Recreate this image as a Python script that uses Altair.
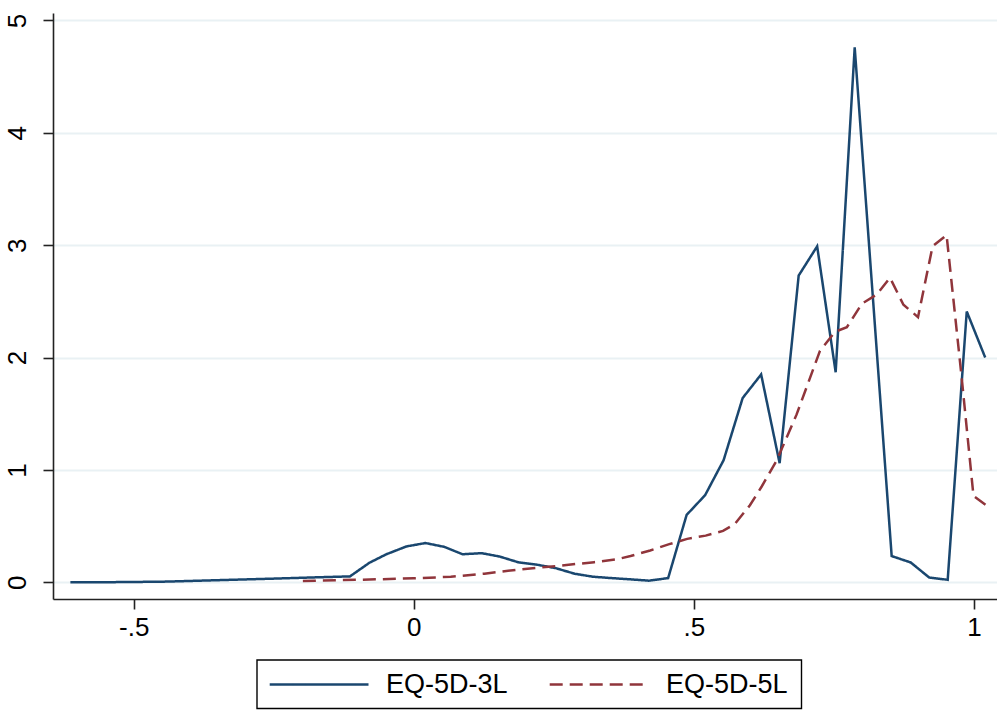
import altair as alt
import pandas as pd

# EQ-5D-3L series (utility value vs density)
x_3l = [-0.613, -0.579, -0.513, -0.448, -0.382, -0.317, -0.251, -0.180, -0.114,
        -0.079, -0.049, -0.013, 0.021, 0.055, 0.087, 0.121, 0.153, 0.187, 0.220,
        0.253, 0.287, 0.320, 0.353, 0.386, 0.420, 0.454, 0.487, 0.520, 0.553,
        0.587, 0.620, 0.653, 0.687, 0.720, 0.753, 0.787, 0.853, 0.887, 0.920,
        0.953, 0.987, 1.020]
y_3l = [0.0, 0.0, 0.003, 0.006, 0.015, 0.024, 0.033, 0.044, 0.053,
        0.175, 0.25, 0.32, 0.35, 0.315, 0.25, 0.26, 0.23, 0.178, 0.157,
        0.127, 0.077, 0.05, 0.038, 0.027, 0.015, 0.038, 0.60, 0.776, 1.087,
        1.64, 1.85, 1.06, 2.73, 2.99, 1.87, 4.76, 0.234, 0.177, 0.043,
        0.023, 2.41, 2.0]

# EQ-5D-5L series
x_5l = [-0.198, -0.13, -0.065, 0.0, 0.066, 0.126, 0.188, 0.254, 0.322, 0.362,
        0.387, 0.422, 0.456, 0.488, 0.521, 0.552, 0.573, 0.60, 0.621, 0.648,
        0.683, 0.725, 0.752, 0.773, 0.80, 0.826, 0.85, 0.874, 0.90, 0.926,
        0.951, 0.978, 0.999, 1.029]
y_5l = [0.012, 0.02, 0.027, 0.036, 0.05, 0.077, 0.115, 0.145, 0.18, 0.205,
        0.234, 0.284, 0.34, 0.387, 0.416, 0.458, 0.52, 0.686, 0.853, 1.087,
        1.49, 2.06, 2.23, 2.27, 2.48, 2.56, 2.71, 2.47, 2.36, 2.99,
        3.09, 1.82, 0.77, 0.66]

series_names = ["EQ-5D-3L", "EQ-5D-5L"]
series_colors = ["#1a476f", "#90353b"]
series_dashes = [[1, 0], [13, 7]]

x_ticks = [-0.5, 0, 0.5, 1]
x_tick_labels = ["-.5", "0", ".5", "1"]
y_ticks = [0, 1, 2, 3, 4, 5]

df = pd.concat([
    pd.DataFrame({"x": x_3l, "y": y_3l, "series": series_names[0], "order": range(len(x_3l))}),
    pd.DataFrame({"x": x_5l, "y": y_5l, "series": series_names[1], "order": range(len(x_5l))}),
])

label_expr = " : ".join(
    f"datum.value == {v} ? '{l}'" for v, l in zip(x_ticks, x_tick_labels)
) + " : ''"

FONT = "Liberation Sans"
LINE_W = 2.5

lines = alt.Chart(df).mark_line(strokeWidth=LINE_W).encode(
    x=alt.X("x:Q",
            scale=alt.Scale(domain=[-0.644, 1.041], nice=False, zero=False),
            axis=alt.Axis(values=x_ticks, labelExpr=label_expr, title=None,
                          grid=False, tickSize=10, labelPadding=5,
                          labelFontSize=26, labelFont=FONT, labelColor="#000",
                          domainColor="#222", tickColor="#222",
                          domainWidth=1.6, tickWidth=1.6, labelFlush=False)),
    y=alt.Y("y:Q",
            scale=alt.Scale(domain=[-0.148, 5.066], nice=False, zero=False),
            axis=alt.Axis(values=y_ticks, format="d", title=None,
                          grid=True, gridColor="#e9f1f4", gridWidth=2,
                          tickSize=10, labelPadding=18, labelAngle=270,
                          labelAlign="center", labelBaseline="alphabetic",
                          labelFontSize=26, labelFont=FONT, labelColor="#000",
                          domainColor="#222", tickColor="#222",
                          domainWidth=1.6, tickWidth=1.6, labelFlush=False)),
    color=alt.Color("series:N",
                    scale=alt.Scale(domain=series_names, range=series_colors),
                    legend=None),
    strokeDash=alt.StrokeDash("series:N",
                              scale=alt.Scale(domain=series_names, range=series_dashes),
                              legend=None),
    order="order:Q",
)

# Legend (drawn as decoration below the plot, like Stata's boxed legend)
legend_box = alt.Chart(pd.DataFrame({"k": [0]})).mark_rect(
    fill="white", stroke="#000", strokeWidth=1.4
).encode(
    x=alt.value(204), x2=alt.value(748.5),
    y=alt.value(647), y2=alt.value(695.5),
)

legend_sym_x = [(216.7, 315.5), (496.7, 595)]
legend_txt_x = [333, 613]
legend_layers = []
for i, name in enumerate(series_names):
    one = pd.DataFrame({"series": [name]})
    legend_layers.append(
        alt.Chart(one).mark_rule(
            strokeWidth=LINE_W, color=series_colors[i], strokeDash=series_dashes[i]
        ).encode(
            x=alt.value(legend_sym_x[i][0]), x2=alt.value(legend_sym_x[i][1]),
            y=alt.value(671.5),
        )
    )
    legend_layers.append(
        alt.Chart(one).mark_text(
            align="left", baseline="middle", fontSize=27, font=FONT, color="#000"
        ).encode(
            x=alt.value(legend_txt_x[i]), y=alt.value(672), text="series:N",
        )
    )

chart = alt.layer(lines, legend_box, *legend_layers).properties(
    width=944, height=586,
    autosize=alt.AutoSizeParams(type="none"),
    padding={"left": 53, "top": 13, "right": 0, "bottom": 111},
    background="white",
).configure_view(stroke=None)

chart.save("out.html", embed_options={"renderer": "svg", "actions": False})
